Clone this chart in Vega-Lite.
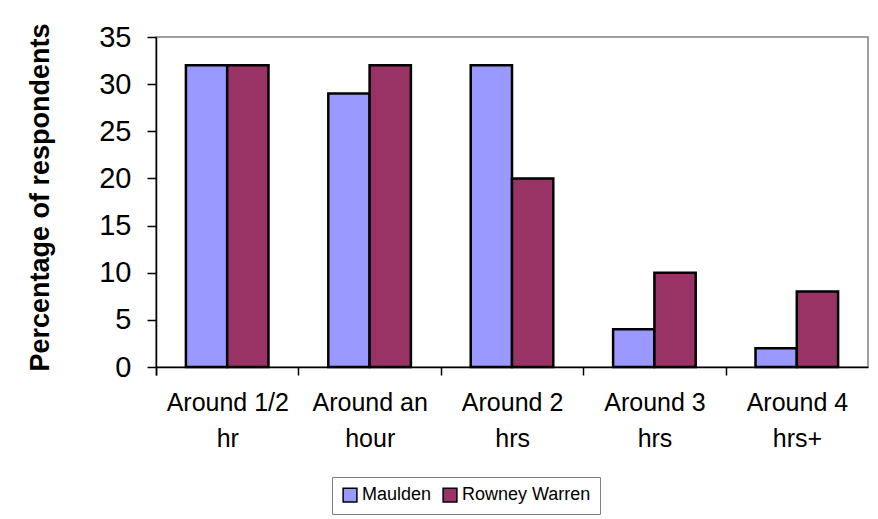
{
  "$schema": "https://vega.github.io/schema/vega-lite/v6.json",
  "width": 712,
  "height": 330,
  "autosize": {"type": "none"},
  "padding": {"left": 156, "top": 37, "right": 10, "bottom": 152},
  "background": "white",
  "data": {
    "values": [
      {"duration": "Around 1/2 hr", "site": "Maulden", "percent": 32},
      {"duration": "Around 1/2 hr", "site": "Rowney Warren", "percent": 32},
      {"duration": "Around an hour", "site": "Maulden", "percent": 29},
      {"duration": "Around an hour", "site": "Rowney Warren", "percent": 32},
      {"duration": "Around 2 hrs", "site": "Maulden", "percent": 32},
      {"duration": "Around 2 hrs", "site": "Rowney Warren", "percent": 20},
      {"duration": "Around 3 hrs", "site": "Maulden", "percent": 4},
      {"duration": "Around 3 hrs", "site": "Rowney Warren", "percent": 10},
      {"duration": "Around 4 hrs+", "site": "Maulden", "percent": 2},
      {"duration": "Around 4 hrs+", "site": "Rowney Warren", "percent": 8}
    ]
  },
  "mark": {"type": "bar", "stroke": "#000000", "strokeWidth": 2.5, "strokeOpacity": 1},
  "encoding": {
    "x": {
      "field": "duration",
      "type": "nominal",
      "sort": ["Around 1/2 hr", "Around an hour", "Around 2 hrs", "Around 3 hrs", "Around 4 hrs+"],
      "scale": {"paddingInner": 0.42, "paddingOuter": 0.21},
      "axis": {
        "title": null,
        "labelAngle": 0,
        "labelFont": "Liberation Sans",
        "labelFontSize": 25,
        "labelColor": "black",
        "labelLineHeight": 36,
        "labelBaseline": "top",
        "labelPadding": 15,
        "labelExpr": "[slice(datum.label, 0, lastindexof(datum.label, ' ')), slice(datum.label, lastindexof(datum.label, ' ') + 1)]",
        "bandPosition": 0,
        "tickOffset": -29.9,
        "labelOffset": 30,
        "tickExtra": true,
        "tickSize": 8,
        "tickColor": "black",
        "tickWidth": 1.5,
        "domainColor": "black",
        "domainWidth": 1.5,
        "grid": false
      }
    },
    "xOffset": {"field": "site", "sort": ["Maulden", "Rowney Warren"]},
    "y": {
      "field": "percent",
      "type": "quantitative",
      "scale": {"domain": [0, 35], "nice": false},
      "axis": {
        "title": "Percentage of respondents",
        "titleFont": "Liberation Sans",
        "titleFontSize": 27,
        "titleFontWeight": "bold",
        "titleColor": "black",
        "titleAngle": -90,
        "titleAlign": "center",
        "titleBaseline": "middle",
        "titleX": -116,
        "titleY": 160,
        "values": [0, 5, 10, 15, 20, 25, 30, 35],
        "labelFont": "Liberation Sans",
        "labelFontSize": 29,
        "labelColor": "black",
        "labelPadding": 16,
        "tickSize": 9,
        "tickColor": "black",
        "tickWidth": 1.5,
        "domainColor": "black",
        "domainWidth": 1.5,
        "grid": false
      }
    },
    "stroke": {"value": "#000000"},
    "strokeWidth": {"value": 2.5},
    "color": {
      "field": "site",
      "type": "nominal",
      "scale": {"domain": ["Maulden", "Rowney Warren"], "range": ["#9999FF", "#993366"]},
      "legend": {
        "title": null,
        "orient": "none",
        "legendX": 176,
        "legendY": 440,
        "direction": "horizontal",
        "strokeColor": "#808080",
        "fillColor": "white",
        "padding": 9,
        "symbolType": "square",
        "symbolSize": 190,
        "symbolStrokeColor": "black",
        "symbolStrokeWidth": 1.5,
        "symbolOpacity": 1,
        "labelFont": "Liberation Sans",
        "labelFontSize": 18,
        "labelColor": "black",
        "labelOffset": 3,
        "columnPadding": 8
      }
    }
  },
  "config": {
    "view": {"stroke": "#808080", "strokeWidth": 1.5},
    "font": "Liberation Sans"
  }
}
